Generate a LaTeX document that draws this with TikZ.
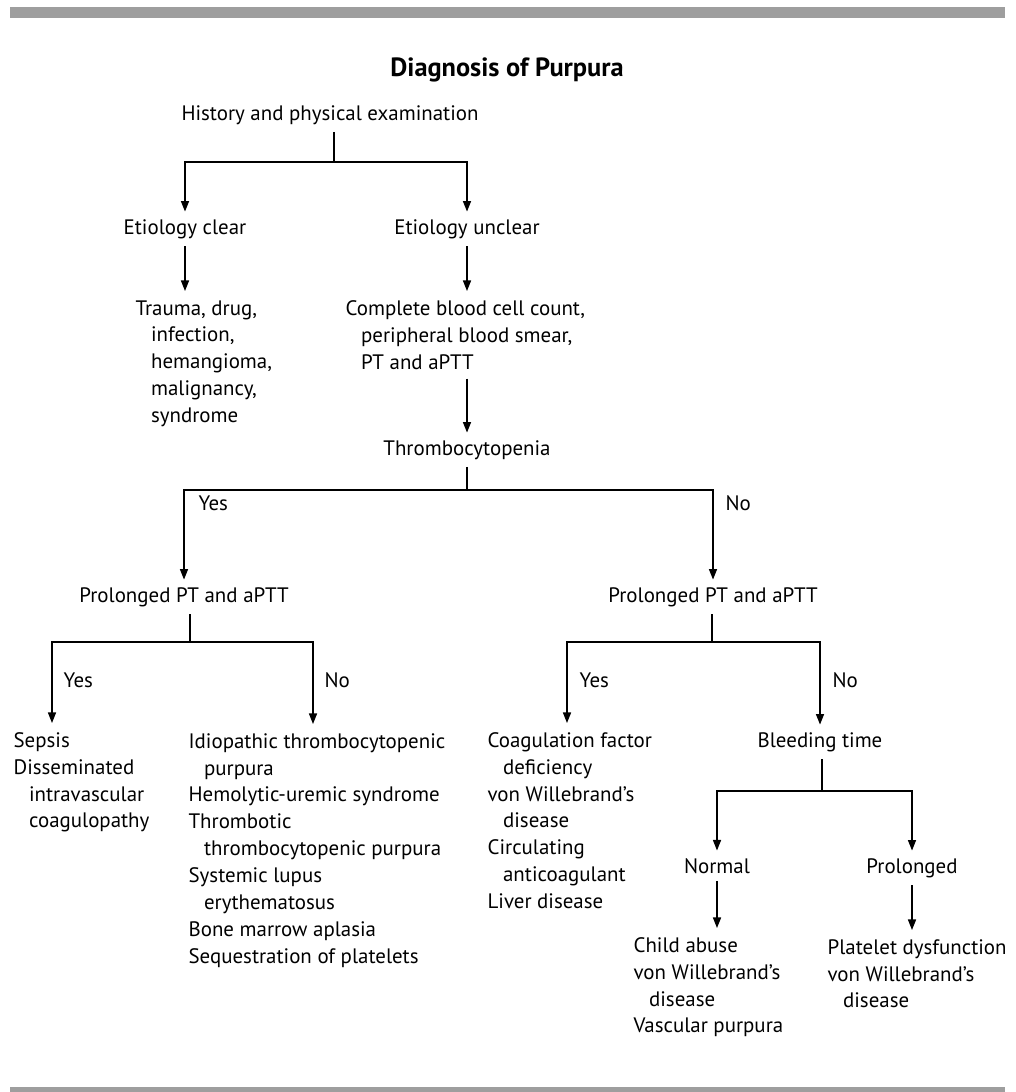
\documentclass[tikz,border=0pt]{standalone}
\usepackage{fontspec}
\setmainfont{PT Sans}
\usetikzlibrary{arrows.meta, positioning, calc}
\definecolor{barGray}{RGB}{158,158,158}
\newcommand{\subln}{\hspace*{0.31cm}}

\begin{document}
\begin{tikzpicture}[x=0.02cm, y=-0.02cm, >={Triangle[length=6pt,width=4.6pt]}, line width=0.7pt,
  every node/.style={font=\fontsize{11.9}{15.3}\selectfont, inner xsep=0pt, inner ysep=4pt},
  head/.style={anchor=base},
  list/.style={anchor=north west, align=left, inner ysep=5pt},
  lab/.style={anchor=base west}]
  \useasboundingbox (0,0) rectangle (1015,1092);
  % grey rules
  \fill[barGray] (10,7) rectangle (1005,18);
  \fill[barGray] (10,1087) rectangle (1005,1092);
  \node[head, font=\fontsize{15}{18}\selectfont\bfseries] (title) at (507,76) {Diagnosis of Purpura};

  % history and etiology
  \node[head] (hist) at (330,120) {History and physical examination};
  \coordinate (j1) at (334,162);
  \draw (hist.south -| j1) -- (j1);
  \node[head] (clear) at (185,234) {Etiology clear};
  \node[head] (unclear) at (467,234) {Etiology unclear};
  \draw[->] (j1) -| (clear.north);
  \draw[->] (j1) -| (unclear.north);
  \node[list] (trauma) at (135,291) {Trauma, drug,\\\subln infection,\\\subln hemangioma,\\\subln malignancy,\\\subln syndrome};
  \node[list] (cbc) at (345,291) {Complete blood cell count,\\\subln peripheral blood smear,\\\subln PT and aPTT};
  \draw[->] (clear.south) -- (clear.south |- trauma.north);
  \draw[->] (unclear.south) -- (unclear.south |- cbc.north);

  % thrombocytopenia
  \node[head] (thr) at (467,455) {Thrombocytopenia};
  \draw[->] (thr.north |- cbc.south) -- (thr.north);
  \coordinate (j2) at (467,490);
  \draw (thr.south) -- (j2);
  \node[head] (pl) at (184,602) {Prolonged PT and aPTT};
  \node[head] (pr) at (713,602) {Prolonged PT and aPTT};
  \draw[->] (j2) -| (pl.north);
  \draw[->] (j2) -| (pr.north);
  \node[lab] (yes1) at (198,510) {Yes};
  \node[lab] (no1) at (725,510) {No};

  % left branch
  \coordinate (j3) at (190,642);
  \draw (pl.south -| j3) -- (j3);
  \node[list] (sepsis) at (13,723) {Sepsis\\Disseminated\\\subln intravascular\\\subln coagulopathy};
  \node[list] (itp) at (188,724) {Idiopathic thrombocytopenic\\\subln purpura\\Hemolytic-uremic syndrome\\Thrombotic\\\subln thrombocytopenic purpura\\Systemic lupus\\\subln erythematosus\\Bone marrow aplasia\\Sequestration of platelets};
  \draw[->] (j3) -| ($(sepsis.north west)+(39,0)$);
  \draw[->] (j3) -| ($(itp.north west)+(125,0)$);
  \node[lab] (yes2) at (63,687) {Yes};
  \node[lab] (no2) at (324,687) {No};

  % right branch
  \coordinate (j4) at (712,642);
  \draw (pr.south -| j4) -- (j4);
  \node[list] (coag) at (487,723) {Coagulation factor\\\subln deficiency\\von Willebrand’s\\\subln disease\\Circulating\\\subln anticoagulant\\Liver disease};
  \node[head] (bleed) at (820,747) {Bleeding time};
  \draw[->] (j4) -| ($(coag.north west)+(80,0)$);
  \draw[->] (j4) -| (bleed.north);
  \node[lab] (yes3) at (579,687) {Yes};
  \node[lab] (no3) at (832,687) {No};

  % bleeding time
  \coordinate (j5) at (822,791);
  \draw (bleed.south -| j5) -- (j5);
  \node[head] (norm) at (717,873) {Normal};
  \node[head] (prol) at (912,873) {Prolonged};
  \draw[->] (j5) -| (norm.north);
  \draw[->] (j5) -| (prol.north);
  \node[list] (child) at (633,928) {Child abuse\\von Willebrand’s\\\subln disease\\Vascular purpura};
  \node[list] (plt) at (827,930) {Platelet dysfunction\\von Willebrand’s\\\subln disease};
  \draw[->] (norm.south) -- (norm.south |- child.north);
  \draw[->] (prol.south) -- (prol.south |- plt.north);
\end{tikzpicture}
\end{document}
